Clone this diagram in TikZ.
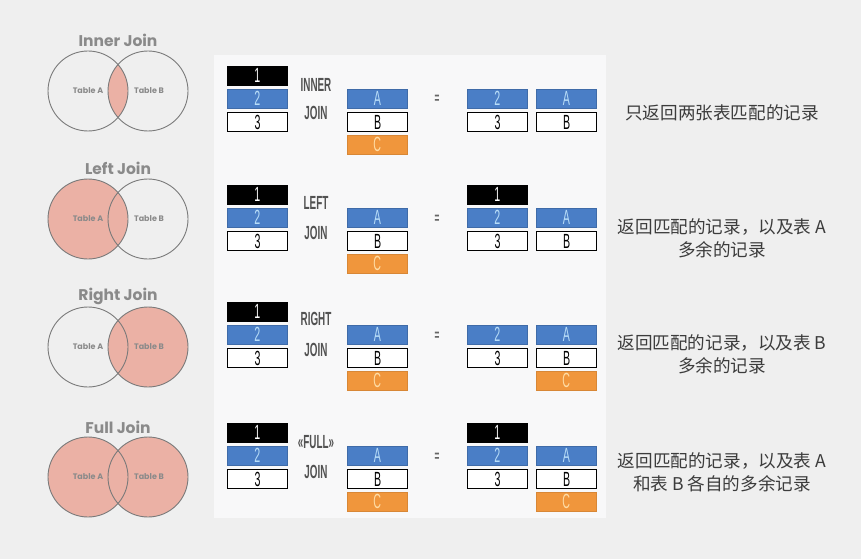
\documentclass[tikz,border=0pt]{standalone}
\usepackage{fontspec}
\setmainfont{Liberation Sans}
\newfontfamily\titlefont{Poppins}
\newfontfamily\cjk{Noto Sans CJK SC}
\newfontfamily\narrowfont{Liberation Sans}
\definecolor{bgc}{HTML}{EFEFEF}
\definecolor{panelc}{HTML}{F8F8F9}
\definecolor{vennfill}{HTML}{EBB1A5}
\definecolor{vennline}{HTML}{7A7A7A}
\definecolor{titlec}{HTML}{8A8A8A}
\definecolor{barblue}{HTML}{4A7EC6}
\definecolor{bluetext}{HTML}{B8DDF8}
\definecolor{barorange}{HTML}{F0963C}
\definecolor{orangetext}{HTML}{FFDDA6}
\definecolor{cjktext}{HTML}{3C3C3C}
\definecolor{jointext}{HTML}{333333}
\newcommand\sx[1]{\scalebox{0.52}[1]{#1}}
\tikzset{
  cell/.style={anchor=north west, minimum width=60pt, minimum height=19pt, inner sep=0pt,
    font=\narrowfont\fontsize{20.5}{20}\selectfont},
  cblack/.style={cell, fill=black, draw=black, line width=0.6pt, text=white},
  cblue/.style={cell, fill=barblue, draw=barblue!85!black, line width=0.6pt, text=bluetext},
  cwhite/.style={cell, fill=white, draw=black, line width=1.4pt, text=black},
  corange/.style={cell, fill=barorange, draw=barorange!90!black, line width=0.6pt, text=orangetext},
  jointxt/.style={font=\narrowfont\bfseries\fontsize{19}{19}\selectfont, text=jointext!85, inner sep=0pt},
  eqtxt/.style={font=\narrowfont\bfseries\fontsize{16}{16}\selectfont, text=black!60, inner sep=0pt},
  vtitle/.style={font=\titlefont\bfseries\fontsize{15.5}{16}\selectfont, text=titlec, inner sep=0pt},
  vlabel/.style={font=\titlefont\bfseries\fontsize{8}{8}\selectfont, text=titlec, inner sep=0pt},
  vline/.style={draw=vennline, line width=0.9pt},
  vfill/.style={fill=vennfill},
  desc/.style={font=\cjk\fontsize{17.6}{23}\selectfont, text=cjktext, align=center, inner sep=0pt},
}
\begin{document}
\begin{tikzpicture}[x=1pt,y=-1pt]
\fill[bgc] (0,0) rectangle (861,559);
\useasboundingbox (0,0) rectangle (861,559);
\fill[panelc] (214,55) rectangle (606,518);

% ---------- Venn diagrams ----------
% Inner
\node[vtitle] (vt1) at (118,40) {Inner Join};
\begin{scope}
  \clip (88,91) circle (40pt);
  \fill[vfill] (148,91) circle (40pt);
\end{scope}
\draw[vline] (88,91) circle (40pt) (148,91) circle (40pt);
\node[vlabel] (va1) at (88,91) {Table A};
\node[vlabel] (vb1) at (149,91) {Table B};
% Left
\node[vtitle] (vt2) at (118,168) {Left Join};
\fill[vfill] (88,219) circle (40pt);
\draw[vline] (88,219) circle (40pt) (148,219) circle (40pt);
\node[vlabel] (va2) at (88,219) {Table A};
\node[vlabel] (vb2) at (149,219) {Table B};
% Right
\node[vtitle] (vt3) at (118,296) {Right Join};
\fill[vfill] (148,347) circle (40pt);
\draw[vline] (88,347) circle (40pt) (148,347) circle (40pt);
\node[vlabel] (va3) at (88,347) {Table A};
\node[vlabel] (vb3) at (149,347) {Table B};
% Full
\node[vtitle] (vt4) at (118,427) {Full Join};
\fill[vfill] (88,477) circle (40pt) (148,477) circle (40pt);
\draw[vline] (88,477) circle (40pt) (148,477) circle (40pt);
\node[vlabel] (va4) at (88,477) {Table A};
\node[vlabel] (vb4) at (149,477) {Table B};

% ---------- Row 1: INNER (t=66) ----------
\node[cblack] (r1l1) at (227,66) {\sx{1}};
\node[cblue]  (r1l2) at (227,89) {\sx{2}};
\node[cwhite] (r1l3) at (227,112) {\sx{3}};
\node[jointxt] (r1j1) at (316,85) {\sx{INNER}};
\node[jointxt] (r1j2) at (316,113) {\sx{JOIN}};
\node[cblue]   (r1a) at (347,89) {\sx{A}};
\node[cwhite]  (r1b) at (347,112) {\sx{B}};
\node[corange] (r1c) at (347,135) {\sx{C}};
\node[eqtxt] (r1eq) at (437,99) {\sx{=}};
\node[cblue]  (r1o2) at (467,89) {\sx{2}};
\node[cwhite] (r1o3) at (467,112) {\sx{3}};
\node[cblue]  (r1oa) at (536,89) {\sx{A}};
\node[cwhite] (r1ob) at (536,112) {\sx{B}};
\node[desc] (d1) at (722,113) {只返回两张表匹配的记录};

% ---------- Row 2: LEFT (t=185) ----------
\node[cblack] (r2l1) at (227,185) {\sx{1}};
\node[cblue]  (r2l2) at (227,208) {\sx{2}};
\node[cwhite] (r2l3) at (227,231) {\sx{3}};
\node[jointxt] (r2j1) at (316,203) {\sx{LEFT}};
\node[jointxt] (r2j2) at (316,233) {\sx{JOIN}};
\node[cblue]   (r2a) at (347,208) {\sx{A}};
\node[cwhite]  (r2b) at (347,231) {\sx{B}};
\node[corange] (r2c) at (347,254) {\sx{C}};
\node[eqtxt] (r2eq) at (437,219) {\sx{=}};
\node[cblack] (r2o1) at (467,185) {\sx{1}};
\node[cblue]  (r2o2) at (467,208) {\sx{2}};
\node[cwhite] (r2o3) at (467,231) {\sx{3}};
\node[cblue]  (r2oa) at (536,208) {\sx{A}};
\node[cwhite] (r2ob) at (536,231) {\sx{B}};
\node[desc] (d2) at (722,238.5) {返回匹配的记录，以及表 A\\多余的记录};

% ---------- Row 3: RIGHT (t=302) ----------
\node[cblack] (r3l1) at (227,302) {\sx{1}};
\node[cblue]  (r3l2) at (227,325) {\sx{2}};
\node[cwhite] (r3l3) at (227,348) {\sx{3}};
\node[jointxt] (r3j1) at (316,319) {\sx{RIGHT}};
\node[jointxt] (r3j2) at (316,350) {\sx{JOIN}};
\node[cblue]   (r3a) at (347,325) {\sx{A}};
\node[cwhite]  (r3b) at (347,348) {\sx{B}};
\node[corange] (r3c) at (347,371) {\sx{C}};
\node[eqtxt] (r3eq) at (437,336) {\sx{=}};
\node[cblue]  (r3o2) at (467,325) {\sx{2}};
\node[cwhite] (r3o3) at (467,348) {\sx{3}};
\node[cblue]   (r3oa) at (536,325) {\sx{A}};
\node[cwhite]  (r3ob) at (536,348) {\sx{B}};
\node[corange] (r3oc) at (536,371) {\sx{C}};
\node[desc] (d3) at (722,354) {返回匹配的记录，以及表 B\\多余的记录};

% ---------- Row 4: FULL (t=423) ----------
\node[cblack] (r4l1) at (227,423) {\sx{1}};
\node[cblue]  (r4l2) at (227,446) {\sx{2}};
\node[cwhite] (r4l3) at (227,469) {\sx{3}};
\node[jointxt] (r4j1) at (316,442) {\sx{«FULL»}};
\node[jointxt] (r4j2) at (316,472) {\sx{JOIN}};
\node[cblue]   (r4a) at (347,446) {\sx{A}};
\node[cwhite]  (r4b) at (347,469) {\sx{B}};
\node[corange] (r4c) at (347,492) {\sx{C}};
\node[eqtxt] (r4eq) at (437,457) {\sx{=}};
\node[cblack] (r4o1) at (467,423) {\sx{1}};
\node[cblue]  (r4o2) at (467,446) {\sx{2}};
\node[cwhite] (r4o3) at (467,469) {\sx{3}};
\node[cblue]   (r4oa) at (536,446) {\sx{A}};
\node[cwhite]  (r4ob) at (536,469) {\sx{B}};
\node[corange] (r4oc) at (536,492) {\sx{C}};
\node[desc] (d4) at (722,472) {返回匹配的记录，以及表 A\\和表 B 各自的多余记录};
\end{tikzpicture}
\end{document}
